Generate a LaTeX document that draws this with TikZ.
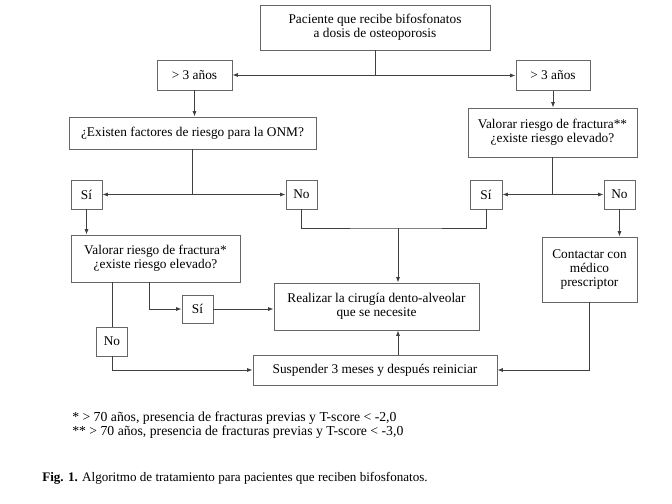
\documentclass[tikz,border=0pt]{standalone}
\usepackage{fontspec}
\setmainfont{Liberation Serif}
\usetikzlibrary{arrows.meta}
\begin{document}
\begin{tikzpicture}[x=0.75pt,y=-0.75pt,
  box/.style={draw=black!60,line width=0.7pt,align=center,inner sep=1pt,
    font=\fontsize{10}{10.5}\selectfont},
  arr/.style={draw=black!75,line width=0.6pt,-{Latex[length=4pt,width=3pt]}},
  ln/.style={draw=black!75,line width=0.6pt}]
\useasboundingbox (0,0) rectangle (672,504);
\node[box,minimum width=172.5pt,minimum height=33.75pt] (top) at (375,27.5) {Paciente que recibe bifosfonatos\\a dosis de osteoporosis};
\node[box,minimum width=56.25pt,minimum height=22.5pt] (a3L) at (194.5,75) {> 3 años};
\node[box,minimum width=55.5pt,minimum height=22pt] (a3R) at (553,75.5) {> 3 años};
\node[box,minimum width=185.25pt,minimum height=24pt] (exist) at (192.5,133) {¿Existen factores de riesgo para la ONM?};
\node[box,minimum width=126.75pt,minimum height=36.75pt] (valR) at (552.5,132.5) {Valorar riesgo de fractura**\\¿existe riesgo elevado?};
\node[box,minimum width=23.25pt,minimum height=21.75pt] (siL) at (86.5,194.5) {Sí};
\node[box,minimum width=23.25pt,minimum height=21.75pt] (noL) at (301.5,194.5) {No};
\node[box,minimum width=24pt,minimum height=21.75pt] (siR) at (486,194.5) {Sí};
\node[box,minimum width=23.25pt,minimum height=21.75pt] (noR) at (619.5,194.5) {No};
\node[box,minimum width=126.75pt,minimum height=35.25pt] (valL) at (155.5,258.5) {Valorar riesgo de fractura*\\¿existe riesgo elevado?};
\node[box,minimum width=23.25pt,minimum height=21pt] (si2) at (197.5,309) {Sí};
\node[box,minimum width=23.25pt,minimum height=21.75pt] (no2) at (112,341.5) {No};
\node[box,minimum width=153.75pt,minimum height=35.25pt] (real) at (376.5,306.5) {Realizar la cirugía dento-alveolar\\que se necesite};
\node[box,minimum width=183pt,minimum height=22.5pt] (susp) at (375,370) {Suspender 3 meses y después reiniciar};
\node[box,minimum width=71.25pt,minimum height=48.75pt] (cont) at (589.5,269.5) {Contactar con\\médico\\prescriptor};
\coordinate (mid) at (398,228);
\coordinate (vl) at (149,282);
% connectors
\draw[arr] (top.south) |- (a3L.east);
\draw[arr] (top.south) |- (a3R.west);
\draw[arr] (a3L.south) -- (a3L.south |- exist.north);
\draw[arr] (a3R.south) -- (a3R.south |- valR.north);
\draw[arr] (exist.south) |- (siL.east);
\draw[arr] (exist.south) |- (noL.west);
\draw[arr] (valR.south) |- (siR.east);
\draw[arr] (valR.south) |- (noR.west);
\draw[arr] (siL.south) -- (siL.south |- valL.north);
\draw[arr] (noR.south) -- (noR.south |- cont.north);
\draw[ln] (noL.south) |- (mid) -| (siR.south);
\draw[arr] (mid) -- (mid |- real.north);
\draw[ln] (no2.north |- valL.south) -- (no2.north);
\draw[arr] (no2.south) |- (susp.west);
\draw[arr] (vl) |- (si2.west);
\draw[arr] (si2.east) -- (si2.east -| real.west);
\draw[arr] (mid |- susp.north) -- (mid |- real.south);
\draw[arr] (cont.south) |- (susp.east);
% footnotes
\node[anchor=west,inner sep=0pt,font=\fontsize{10.3}{10.5}\selectfont,align=left] (fn) at (72,425) {* > 70 años, presencia de fracturas previas y T-score < -2,0\\** > 70 años, presencia de fracturas previas y T-score < -3,0};
\node[anchor=west,inner sep=0pt,font=\fontsize{9.8}{11}\selectfont] (cap) at (42,478) {\textbf{Fig. 1.} Algoritmo de tratamiento para pacientes que reciben bifosfonatos.};
\end{tikzpicture}
\end{document}
